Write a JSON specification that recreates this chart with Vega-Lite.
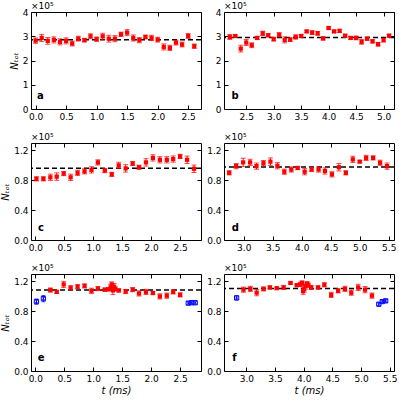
{
"$schema":"https://vega.github.io/schema/vega-lite/v6.json",
"background":"white",
"padding":{"left":0,"top":1,"right":0,"bottom":0},
"config":{
 "font":"DejaVu Sans",
 "view":{"stroke":"black","strokeWidth":1},
 "axis":{"domain":false,"grid":false,"tickSize":-4,"tickWidth":1,"labelPadding":7,"tickColor":"black","labelColor":"black","labelFont":"DejaVu Sans","labelFontSize":9,"titleFont":"DejaVu Sans","titleFontSize":10,"titleFontWeight":"normal","titleColor":"black","labelFlush":false,"titleFontStyle":"italic"},
 "text":{"font":"DejaVu Sans","color":"black"}
},
"datasets":{
 "a":[{"t":0.0,"n":2.82,"err":0.11},{"t":0.1,"n":2.93,"err":0.15},{"t":0.2,"n":2.81,"err":0.14},{"t":0.3,"n":2.85,"err":0.125},{"t":0.4,"n":2.77,"err":0.125},{"t":0.5,"n":2.81,"err":0.125},{"t":0.6,"n":2.7,"err":0.1},{"t":0.7,"n":2.9,"err":0.1},{"t":0.8,"n":2.84,"err":0.075},{"t":0.9,"n":3.0,"err":0.1},{"t":1.0,"n":2.88,"err":0.09},{"t":1.1,"n":3.0,"err":0.125},{"t":1.2,"n":2.9,"err":0.14},{"t":1.3,"n":2.9,"err":0.125},{"t":1.4,"n":3.08,"err":0.09},{"t":1.5,"n":3.15,"err":0.125},{"t":1.6,"n":2.93,"err":0.125},{"t":1.7,"n":2.84,"err":0.11},{"t":1.8,"n":2.97,"err":0.075},{"t":1.9,"n":2.93,"err":0.11},{"t":2.0,"n":2.86,"err":0.1},{"t":2.1,"n":2.56,"err":0.125},{"t":2.2,"n":2.52,"err":0.11},{"t":2.3,"n":2.74,"err":0.1},{"t":2.4,"n":2.66,"err":0.1},{"t":2.5,"n":3.01,"err":0.1},{"t":2.6,"n":2.59,"err":0.09}],
 "b":[{"t":2.2,"n":2.97,"err":0.1},{"t":2.3,"n":3.01,"err":0.05},{"t":2.4,"n":2.49,"err":0.14},{"t":2.5,"n":2.74,"err":0.125},{"t":2.6,"n":2.63,"err":0.1},{"t":2.7,"n":2.93,"err":0.065},{"t":2.8,"n":3.12,"err":0.09},{"t":2.9,"n":3.04,"err":0.065},{"t":3.0,"n":2.88,"err":0.075},{"t":3.1,"n":3.06,"err":0.09},{"t":3.2,"n":2.85,"err":0.125},{"t":3.3,"n":2.86,"err":0.075},{"t":3.4,"n":2.97,"err":0.09},{"t":3.5,"n":3.01,"err":0.065},{"t":3.6,"n":3.2,"err":0.05},{"t":3.7,"n":3.15,"err":0.075},{"t":3.8,"n":3.12,"err":0.075},{"t":3.9,"n":2.91,"err":0.065},{"t":4.0,"n":3.34,"err":0.05},{"t":4.1,"n":3.2,"err":0.05},{"t":4.2,"n":3.22,"err":0.065},{"t":4.3,"n":3.02,"err":0.065},{"t":4.4,"n":2.93,"err":0.065},{"t":4.5,"n":2.93,"err":0.075},{"t":4.6,"n":2.77,"err":0.1},{"t":4.7,"n":2.9,"err":0.065},{"t":4.8,"n":2.79,"err":0.065},{"t":4.9,"n":2.67,"err":0.075},{"t":5.0,"n":2.84,"err":0.075},{"t":5.1,"n":3.02,"err":0.065}],
 "c":[{"t":0.02,"n":0.82,"err":0.028},{"t":0.14,"n":0.82,"err":0.028},{"t":0.26,"n":0.84,"err":0.042},{"t":0.37,"n":0.85,"err":0.05},{"t":0.49,"n":0.89,"err":0.028},{"t":0.61,"n":0.84,"err":0.042},{"t":0.73,"n":0.9,"err":0.035},{"t":0.85,"n":0.92,"err":0.035},{"t":0.97,"n":0.94,"err":0.042},{"t":1.08,"n":1.04,"err":0.035},{"t":1.2,"n":0.93,"err":0.028},{"t":1.32,"n":0.88,"err":0.028},{"t":1.44,"n":1.0,"err":0.042},{"t":1.56,"n":0.96,"err":0.05},{"t":1.68,"n":1.025,"err":0.028},{"t":1.79,"n":0.975,"err":0.028},{"t":1.91,"n":1.04,"err":0.05},{"t":2.03,"n":1.1,"err":0.042},{"t":2.15,"n":1.075,"err":0.042},{"t":2.27,"n":1.075,"err":0.042},{"t":2.38,"n":1.085,"err":0.042},{"t":2.5,"n":1.12,"err":0.028},{"t":2.62,"n":1.075,"err":0.05},{"t":2.74,"n":0.955,"err":0.05}],
 "d":[{"t":2.75,"n":0.9,"err":0.028},{"t":2.87,"n":0.99,"err":0.035},{"t":2.99,"n":1.04,"err":0.056},{"t":3.11,"n":1.04,"err":0.042},{"t":3.22,"n":0.99,"err":0.042},{"t":3.34,"n":1.03,"err":0.035},{"t":3.46,"n":1.05,"err":0.05},{"t":3.58,"n":0.995,"err":0.042},{"t":3.7,"n":0.915,"err":0.035},{"t":3.82,"n":0.945,"err":0.035},{"t":3.93,"n":0.965,"err":0.021},{"t":4.05,"n":0.915,"err":0.042},{"t":4.17,"n":0.945,"err":0.028},{"t":4.29,"n":0.945,"err":0.035},{"t":4.4,"n":0.925,"err":0.042},{"t":4.52,"n":0.88,"err":0.035},{"t":4.64,"n":0.975,"err":0.05},{"t":4.76,"n":0.9,"err":0.028},{"t":4.88,"n":1.08,"err":0.042},{"t":5.0,"n":1.05,"err":0.014},{"t":5.11,"n":1.1,"err":0.035},{"t":5.23,"n":1.1,"err":0.028},{"t":5.35,"n":1.035,"err":0.035},{"t":5.47,"n":0.99,"err":0.042}],
 "e":[{"t":0.26,"n":1.085,"err":0.028,"g":"r"},{"t":0.37,"n":1.06,"err":0.021,"g":"r"},{"t":0.49,"n":1.16,"err":0.042,"g":"r"},{"t":0.61,"n":1.115,"err":0.028,"g":"r"},{"t":0.73,"n":1.13,"err":0.028,"g":"r"},{"t":0.85,"n":1.14,"err":0.028,"g":"r"},{"t":0.97,"n":1.075,"err":0.035,"g":"r"},{"t":1.08,"n":1.105,"err":0.028,"g":"r"},{"t":1.2,"n":1.09,"err":0.021,"g":"r"},{"t":1.26,"n":1.095,"err":0.021,"g":"r"},{"t":1.3,"n":1.12,"err":0.042,"g":"r"},{"t":1.32,"n":1.16,"err":0.035,"g":"r"},{"t":1.34,"n":1.08,"err":0.056,"g":"r"},{"t":1.36,"n":1.13,"err":0.042,"g":"r"},{"t":1.38,"n":1.1,"err":0.028,"g":"r"},{"t":1.44,"n":1.08,"err":0.021,"g":"r"},{"t":1.56,"n":1.065,"err":0.028,"g":"r"},{"t":1.68,"n":1.09,"err":0.028,"g":"r"},{"t":1.79,"n":1.04,"err":0.035,"g":"r"},{"t":1.91,"n":1.06,"err":0.035,"g":"r"},{"t":2.03,"n":1.045,"err":0.021,"g":"r"},{"t":2.15,"n":1.0,"err":0.035,"g":"r"},{"t":2.27,"n":1.01,"err":0.035,"g":"r"},{"t":2.38,"n":1.06,"err":0.028,"g":"r"},{"t":2.5,"n":1.02,"err":0.028,"g":"r"},{"t":0.02,"n":0.93,"err":0.035,"g":"b"},{"t":0.14,"n":0.97,"err":0.042,"g":"b"},{"t":2.64,"n":0.91,"err":0.021,"g":"b"},{"t":2.7,"n":0.915,"err":0.021,"g":"b"},{"t":2.76,"n":0.915,"err":0.021,"g":"b"}],
 "f":[{"t":2.95,"n":1.09,"err":0.035,"g":"r"},{"t":3.07,"n":1.1,"err":0.035,"g":"r"},{"t":3.18,"n":1.05,"err":0.042,"g":"r"},{"t":3.3,"n":1.1,"err":0.028,"g":"r"},{"t":3.41,"n":1.12,"err":0.021,"g":"r"},{"t":3.53,"n":1.11,"err":0.014,"g":"r"},{"t":3.65,"n":1.12,"err":0.028,"g":"r"},{"t":3.77,"n":1.18,"err":0.014,"g":"r"},{"t":3.88,"n":1.15,"err":0.014,"g":"r"},{"t":3.94,"n":1.16,"err":0.028,"g":"r"},{"t":3.97,"n":1.18,"err":0.028,"g":"r"},{"t":3.99,"n":1.07,"err":0.042,"g":"r"},{"t":4.01,"n":1.1,"err":0.042,"g":"r"},{"t":4.03,"n":1.14,"err":0.042,"g":"r"},{"t":4.06,"n":1.17,"err":0.028,"g":"r"},{"t":4.08,"n":1.15,"err":0.028,"g":"r"},{"t":4.13,"n":1.12,"err":0.028,"g":"r"},{"t":4.25,"n":1.12,"err":0.021,"g":"r"},{"t":4.36,"n":1.155,"err":0.028,"g":"r"},{"t":4.48,"n":1.02,"err":0.035,"g":"r"},{"t":4.6,"n":1.075,"err":0.028,"g":"r"},{"t":4.72,"n":1.1,"err":0.035,"g":"r"},{"t":4.83,"n":1.05,"err":0.035,"g":"r"},{"t":4.95,"n":1.12,"err":0.042,"g":"r"},{"t":5.07,"n":1.09,"err":0.042,"g":"r"},{"t":5.19,"n":1.01,"err":0.035,"g":"r"},{"t":2.83,"n":0.98,"err":0.028,"g":"b"},{"t":5.31,"n":0.895,"err":0.021,"g":"b"},{"t":5.37,"n":0.93,"err":0.021,"g":"b"},{"t":5.43,"n":0.94,"err":0.021,"g":"b"}]
},
"columns":2,
"spacing":{"row":34,"column":23},
"bounds":"flush",
"concat":[
 {"width":170,"height":97,"layer":[
  {"data":{"values":[{"v":2.86}]},"mark":{"type":"rule","strokeDash":[5,3],"strokeWidth":1.5,"color":"black"},
   "encoding":{"y":{"field":"v","type":"quantitative","scale":{"domain":[0,4],"nice":false},"axis":null}}},
  {"data":{"name":"a"},"mark":{"type":"errorbar","color":"red","ticks":{"size":5},"thickness":1},
   "encoding":{"x":{"field":"t","type":"quantitative","scale":{"domain":[-0.075,2.71],"nice":false,"zero":false},"axis":null},
    "y":{"field":"n","type":"quantitative","scale":{"domain":[0,4],"nice":false},"axis":null},"yError":{"field":"err"}}},
  {"data":{"name":"a"},"mark":{"type":"point","shape":"square","filled":true,"size":18,"color":"red","opacity":1},
   "encoding":{"x":{"field":"t","type":"quantitative","scale":{"domain":[-0.075,2.71],"nice":false,"zero":false},"axis":{"orient":"bottom","values":[0,0.5,1,1.5,2,2.5],"format":".1f","title":null}},
    "y":{"field":"n","type":"quantitative","scale":{"domain":[0,4],"nice":false},"axis":{"orient":"left","values":[0,1,2,3,4],"format":"d","title":"Nₜₒₜ","titlePadding":3}}}},
  {"data":{"values":[{"label":"×10⁵","x":-0.075,"y":4}]},"mark":{"type":"text","align":"left","baseline":"bottom","dy":-1,"fontSize":9},
   "encoding":{"text":{"field":"label"},"x":{"field":"x","type":"quantitative","axis":{"orient":"top","labels":false,"values":[0,0.5,1,1.5,2,2.5],"title":null}},
    "y":{"field":"y","type":"quantitative","axis":{"orient":"right","labels":false,"values":[0,1,2,3,4],"title":null}}}},
  {"data":{"values":[{"label":"a","x":0.08,"y":0.53}]},"mark":{"type":"text","fontWeight":"bold","fontSize":10,"align":"center","baseline":"middle"},
   "encoding":{"text":{"field":"label"},"x":{"field":"x","type":"quantitative","axis":null},"y":{"field":"y","type":"quantitative","axis":null}}}
 ]},
 {"width":170,"height":97,"layer":[
  {"data":{"values":[{"v":2.95}]},"mark":{"type":"rule","strokeDash":[5,3],"strokeWidth":1.5,"color":"black"},
   "encoding":{"y":{"field":"v","type":"quantitative","scale":{"domain":[0,4],"nice":false},"axis":null}}},
  {"data":{"name":"b"},"mark":{"type":"errorbar","color":"red","ticks":{"size":5},"thickness":1},
   "encoding":{"x":{"field":"t","type":"quantitative","scale":{"domain":[2.095,5.19],"nice":false,"zero":false},"axis":null},
    "y":{"field":"n","type":"quantitative","scale":{"domain":[0,4],"nice":false},"axis":null},"yError":{"field":"err"}}},
  {"data":{"name":"b"},"mark":{"type":"point","shape":"square","filled":true,"size":18,"color":"red","opacity":1},
   "encoding":{"x":{"field":"t","type":"quantitative","scale":{"domain":[2.095,5.19],"nice":false,"zero":false},"axis":{"orient":"bottom","values":[2.5,3,3.5,4,4.5,5],"format":".1f","title":null}},
    "y":{"field":"n","type":"quantitative","scale":{"domain":[0,4],"nice":false},"axis":{"orient":"left","values":[0,1,2,3,4],"format":"d","title":null}}}},
  {"data":{"values":[{"label":"×10⁵","x":2.095,"y":4}]},"mark":{"type":"text","align":"left","baseline":"bottom","dy":-1,"fontSize":9},
   "encoding":{"text":{"field":"label"},"x":{"field":"x","type":"quantitative","axis":{"orient":"top","labels":false,"values":[2.5,3,3.5,4,4.5,5],"title":null}},
    "y":{"field":"y","type":"quantitative","axis":{"orient":"right","labels":false,"values":[0,1,2,3,4],"title":null}}}},
  {"data":{"values":[{"label":"b","x":2.295,"y":0.53}]},"mark":{"type":"text","fontWeight":"bold","fontSize":10,"align":"center","baseline":"middle"},
   "encoding":{"text":{"field":"label"},"x":{"field":"x","type":"quantitative","axis":null},"y":{"field":"y","type":"quantitative","axis":null}}}
 ]},
 {"width":170,"height":97,"layer":[
  {"data":{"values":[{"v":0.963}]},"mark":{"type":"rule","strokeDash":[5,3],"strokeWidth":1.5,"color":"black"},
   "encoding":{"y":{"field":"v","type":"quantitative","scale":{"domain":[0,1.3],"nice":false},"axis":null}}},
  {"data":{"name":"c"},"mark":{"type":"errorbar","color":"red","ticks":{"size":5},"thickness":1},
   "encoding":{"x":{"field":"t","type":"quantitative","scale":{"domain":[-0.074,2.86],"nice":false,"zero":false},"axis":null},
    "y":{"field":"n","type":"quantitative","scale":{"domain":[0,1.3],"nice":false},"axis":null},"yError":{"field":"err"}}},
  {"data":{"name":"c"},"mark":{"type":"point","shape":"square","filled":true,"size":18,"color":"red","opacity":1},
   "encoding":{"x":{"field":"t","type":"quantitative","scale":{"domain":[-0.074,2.86],"nice":false,"zero":false},"axis":{"orient":"bottom","values":[0,0.5,1,1.5,2,2.5],"format":".1f","title":null}},
    "y":{"field":"n","type":"quantitative","scale":{"domain":[0,1.3],"nice":false},"axis":{"orient":"left","values":[0,0.4,0.8,1.2],"format":".1f","title":"Nₜₒₜ","titlePadding":3}}}},
  {"data":{"values":[{"label":"×10⁵","x":-0.074,"y":1.3}]},"mark":{"type":"text","align":"left","baseline":"bottom","dy":-1,"fontSize":9},
   "encoding":{"text":{"field":"label"},"x":{"field":"x","type":"quantitative","axis":{"orient":"top","labels":false,"values":[0,0.5,1,1.5,2,2.5],"title":null}},
    "y":{"field":"y","type":"quantitative","axis":{"orient":"right","labels":false,"values":[0,0.4,0.8,1.2],"title":null}}}},
  {"data":{"values":[{"label":"c","x":0.1,"y":0.156}]},"mark":{"type":"text","fontWeight":"bold","fontSize":10,"align":"center","baseline":"middle"},
   "encoding":{"text":{"field":"label"},"x":{"field":"x","type":"quantitative","axis":null},"y":{"field":"y","type":"quantitative","axis":null}}}
 ]},
 {"width":170,"height":97,"layer":[
  {"data":{"values":[{"v":0.98}]},"mark":{"type":"rule","strokeDash":[5,3],"strokeWidth":1.5,"color":"black"},
   "encoding":{"y":{"field":"v","type":"quantitative","scale":{"domain":[0,1.3],"nice":false},"axis":null}}},
  {"data":{"name":"d"},"mark":{"type":"errorbar","color":"red","ticks":{"size":5},"thickness":1},
   "encoding":{"x":{"field":"t","type":"quantitative","scale":{"domain":[2.66,5.59],"nice":false,"zero":false},"axis":null},
    "y":{"field":"n","type":"quantitative","scale":{"domain":[0,1.3],"nice":false},"axis":null},"yError":{"field":"err"}}},
  {"data":{"name":"d"},"mark":{"type":"point","shape":"square","filled":true,"size":18,"color":"red","opacity":1},
   "encoding":{"x":{"field":"t","type":"quantitative","scale":{"domain":[2.66,5.59],"nice":false,"zero":false},"axis":{"orient":"bottom","values":[3,3.5,4,4.5,5,5.5],"format":".1f","title":null}},
    "y":{"field":"n","type":"quantitative","scale":{"domain":[0,1.3],"nice":false},"axis":{"orient":"left","values":[0,0.4,0.8,1.2],"format":".1f","title":null}}}},
  {"data":{"values":[{"label":"×10⁵","x":2.66,"y":1.3}]},"mark":{"type":"text","align":"left","baseline":"bottom","dy":-1,"fontSize":9},
   "encoding":{"text":{"field":"label"},"x":{"field":"x","type":"quantitative","axis":{"orient":"top","labels":false,"values":[3,3.5,4,4.5,5,5.5],"title":null}},
    "y":{"field":"y","type":"quantitative","axis":{"orient":"right","labels":false,"values":[0,0.4,0.8,1.2],"title":null}}}},
  {"data":{"values":[{"label":"d","x":2.855,"y":0.156}]},"mark":{"type":"text","fontWeight":"bold","fontSize":10,"align":"center","baseline":"middle"},
   "encoding":{"text":{"field":"label"},"x":{"field":"x","type":"quantitative","axis":null},"y":{"field":"y","type":"quantitative","axis":null}}}
 ]},
 {"width":170,"height":97,"layer":[
  {"data":{"values":[{"v":1.085}]},"mark":{"type":"rule","strokeDash":[5,3],"strokeWidth":1.5,"color":"black"},
   "encoding":{"y":{"field":"v","type":"quantitative","scale":{"domain":[0,1.3],"nice":false},"axis":null}}},
  {"data":{"name":"e"},"transform":[{"filter":"datum.g === 'r'"}],"mark":{"type":"errorbar","color":"red","ticks":{"size":5},"thickness":1},
   "encoding":{"x":{"field":"t","type":"quantitative","scale":{"domain":[-0.074,2.86],"nice":false,"zero":false},"axis":null},
    "y":{"field":"n","type":"quantitative","scale":{"domain":[0,1.3],"nice":false},"axis":null},"yError":{"field":"err"}}},
  {"data":{"name":"e"},"transform":[{"filter":"datum.g === 'b'"}],"mark":{"type":"errorbar","color":"blue","ticks":{"size":4},"thickness":1},
   "encoding":{"x":{"field":"t","type":"quantitative","axis":null},
    "y":{"field":"n","type":"quantitative","axis":null},"yError":{"field":"err"}}},
  {"data":{"name":"e"},"transform":[{"filter":"datum.g === 'r'"}],"mark":{"type":"point","shape":"square","filled":true,"size":18,"color":"red","opacity":1},
   "encoding":{"x":{"field":"t","type":"quantitative","scale":{"domain":[-0.074,2.86],"nice":false,"zero":false},"axis":{"orient":"bottom","values":[0,0.5,1,1.5,2,2.5],"format":".1f","title":"t (ms)","titlePadding":2}},
    "y":{"field":"n","type":"quantitative","scale":{"domain":[0,1.3],"nice":false},"axis":{"orient":"left","values":[0,0.4,0.8,1.2],"format":".1f","title":"Nₜₒₜ","titlePadding":3}}}},
  {"data":{"name":"e"},"transform":[{"filter":"datum.g === 'b'"}],"mark":{"type":"point","shape":"square","filled":false,"size":18,"color":"blue","strokeWidth":1,"opacity":1},
   "encoding":{"x":{"field":"t","type":"quantitative","axis":null},"y":{"field":"n","type":"quantitative","axis":null}}},
  {"data":{"name":"e"},"transform":[{"filter":"datum.g === 'b'"}],"mark":{"type":"point","shape":"M-0.7,-0.7L0.7,0.7M-0.7,0.7L0.7,-0.7","filled":false,"size":18,"color":"blue","strokeWidth":0.7,"opacity":1},
   "encoding":{"x":{"field":"t","type":"quantitative","axis":null},"y":{"field":"n","type":"quantitative","axis":null}}},
  {"data":{"values":[{"label":"×10⁵","x":-0.074,"y":1.3}]},"mark":{"type":"text","align":"left","baseline":"bottom","dy":-1,"fontSize":9},
   "encoding":{"text":{"field":"label"},"x":{"field":"x","type":"quantitative","axis":{"orient":"top","labels":false,"values":[0,0.5,1,1.5,2,2.5],"title":null}},
    "y":{"field":"y","type":"quantitative","axis":{"orient":"right","labels":false,"values":[0,0.4,0.8,1.2],"title":null}}}},
  {"data":{"values":[{"label":"e","x":0.1,"y":0.17}]},"mark":{"type":"text","fontWeight":"bold","fontSize":10,"align":"center","baseline":"middle"},
   "encoding":{"text":{"field":"label"},"x":{"field":"x","type":"quantitative","axis":null},"y":{"field":"y","type":"quantitative","axis":null}}}
 ]},
 {"width":170,"height":97,"layer":[
  {"data":{"values":[{"v":1.105}]},"mark":{"type":"rule","strokeDash":[5,3],"strokeWidth":1.5,"color":"black"},
   "encoding":{"y":{"field":"v","type":"quantitative","scale":{"domain":[0,1.3],"nice":false},"axis":null}}},
  {"data":{"name":"f"},"transform":[{"filter":"datum.g === 'r'"}],"mark":{"type":"errorbar","color":"red","ticks":{"size":5},"thickness":1},
   "encoding":{"x":{"field":"t","type":"quantitative","scale":{"domain":[2.61,5.575],"nice":false,"zero":false},"axis":null},
    "y":{"field":"n","type":"quantitative","scale":{"domain":[0,1.3],"nice":false},"axis":null},"yError":{"field":"err"}}},
  {"data":{"name":"f"},"transform":[{"filter":"datum.g === 'b'"}],"mark":{"type":"errorbar","color":"blue","ticks":{"size":4},"thickness":1},
   "encoding":{"x":{"field":"t","type":"quantitative","axis":null},
    "y":{"field":"n","type":"quantitative","axis":null},"yError":{"field":"err"}}},
  {"data":{"name":"f"},"transform":[{"filter":"datum.g === 'r'"}],"mark":{"type":"point","shape":"square","filled":true,"size":18,"color":"red","opacity":1},
   "encoding":{"x":{"field":"t","type":"quantitative","scale":{"domain":[2.61,5.575],"nice":false,"zero":false},"axis":{"orient":"bottom","values":[3,3.5,4,4.5,5,5.5],"format":".1f","title":"t (ms)","titlePadding":2}},
    "y":{"field":"n","type":"quantitative","scale":{"domain":[0,1.3],"nice":false},"axis":{"orient":"left","values":[0,0.4,0.8,1.2],"format":".1f","title":null}}}},
  {"data":{"name":"f"},"transform":[{"filter":"datum.g === 'b'"}],"mark":{"type":"point","shape":"square","filled":false,"size":18,"color":"blue","strokeWidth":1,"opacity":1},
   "encoding":{"x":{"field":"t","type":"quantitative","axis":null},"y":{"field":"n","type":"quantitative","axis":null}}},
  {"data":{"name":"f"},"transform":[{"filter":"datum.g === 'b'"}],"mark":{"type":"point","shape":"M-0.7,-0.7L0.7,0.7M-0.7,0.7L0.7,-0.7","filled":false,"size":18,"color":"blue","strokeWidth":0.7,"opacity":1},
   "encoding":{"x":{"field":"t","type":"quantitative","axis":null},"y":{"field":"n","type":"quantitative","axis":null}}},
  {"data":{"values":[{"label":"×10⁵","x":2.61,"y":1.3}]},"mark":{"type":"text","align":"left","baseline":"bottom","dy":-1,"fontSize":9},
   "encoding":{"text":{"field":"label"},"x":{"field":"x","type":"quantitative","axis":{"orient":"top","labels":false,"values":[3,3.5,4,4.5,5,5.5],"title":null}},
    "y":{"field":"y","type":"quantitative","axis":{"orient":"right","labels":false,"values":[0,0.4,0.8,1.2],"title":null}}}},
  {"data":{"values":[{"label":"f","x":2.79,"y":0.18}]},"mark":{"type":"text","fontWeight":"bold","fontSize":10,"align":"center","baseline":"middle"},
   "encoding":{"text":{"field":"label"},"x":{"field":"x","type":"quantitative","axis":null},"y":{"field":"y","type":"quantitative","axis":null}}}
 ]}
]
}
